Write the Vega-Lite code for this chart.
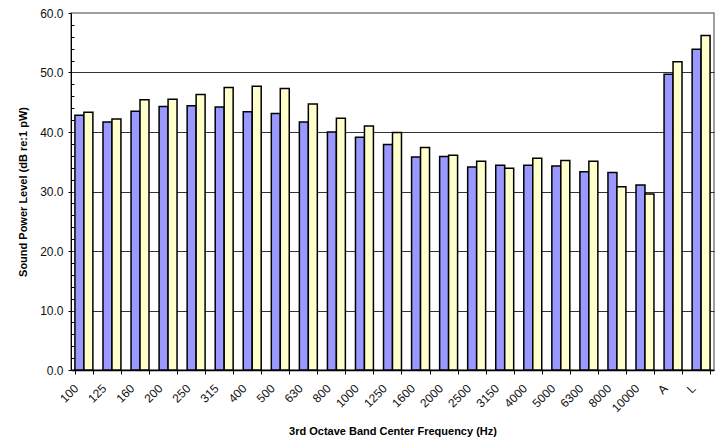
{
  "$schema": "https://vega.github.io/schema/vega-lite/v6.json",
  "autosize": {"type": "none"},
  "width": 643,
  "height": 357,
  "padding": {"left": 71, "top": 13, "right": 5, "bottom": 71},
  "background": "white",
  "config": {
    "font": "Liberation Sans",
    "view": {"stroke": "#808080", "strokeWidth": 1.5},
    "axis": {"labelFont": "Liberation Sans", "titleFont": "Liberation Sans", "labelColor": "#111", "titleColor": "#000"}
  },
  "data": {
    "values": [
      {"band": "100", "series": "Series 1", "db": 42.8}, {"band": "100", "series": "Series 2", "db": 43.3},
      {"band": "125", "series": "Series 1", "db": 41.7}, {"band": "125", "series": "Series 2", "db": 42.2},
      {"band": "160", "series": "Series 1", "db": 43.5}, {"band": "160", "series": "Series 2", "db": 45.4},
      {"band": "200", "series": "Series 1", "db": 44.3}, {"band": "200", "series": "Series 2", "db": 45.5},
      {"band": "250", "series": "Series 1", "db": 44.4}, {"band": "250", "series": "Series 2", "db": 46.3},
      {"band": "315", "series": "Series 1", "db": 44.2}, {"band": "315", "series": "Series 2", "db": 47.5},
      {"band": "400", "series": "Series 1", "db": 43.4}, {"band": "400", "series": "Series 2", "db": 47.7},
      {"band": "500", "series": "Series 1", "db": 43.1}, {"band": "500", "series": "Series 2", "db": 47.3},
      {"band": "630", "series": "Series 1", "db": 41.7}, {"band": "630", "series": "Series 2", "db": 44.7},
      {"band": "800", "series": "Series 1", "db": 40.0}, {"band": "800", "series": "Series 2", "db": 42.3},
      {"band": "1000", "series": "Series 1", "db": 39.1}, {"band": "1000", "series": "Series 2", "db": 41.0},
      {"band": "1250", "series": "Series 1", "db": 37.9}, {"band": "1250", "series": "Series 2", "db": 39.9},
      {"band": "1600", "series": "Series 1", "db": 35.8}, {"band": "1600", "series": "Series 2", "db": 37.4},
      {"band": "2000", "series": "Series 1", "db": 35.9}, {"band": "2000", "series": "Series 2", "db": 36.1},
      {"band": "2500", "series": "Series 1", "db": 34.1}, {"band": "2500", "series": "Series 2", "db": 35.1},
      {"band": "3150", "series": "Series 1", "db": 34.4}, {"band": "3150", "series": "Series 2", "db": 33.9},
      {"band": "4000", "series": "Series 1", "db": 34.4}, {"band": "4000", "series": "Series 2", "db": 35.6},
      {"band": "5000", "series": "Series 1", "db": 34.3}, {"band": "5000", "series": "Series 2", "db": 35.2},
      {"band": "6300", "series": "Series 1", "db": 33.3}, {"band": "6300", "series": "Series 2", "db": 35.1},
      {"band": "8000", "series": "Series 1", "db": 33.2}, {"band": "8000", "series": "Series 2", "db": 30.8},
      {"band": "10000", "series": "Series 1", "db": 31.1}, {"band": "10000", "series": "Series 2", "db": 29.6},
      {"band": "A", "series": "Series 1", "db": 49.7}, {"band": "A", "series": "Series 2", "db": 51.8},
      {"band": "L", "series": "Series 1", "db": 53.9}, {"band": "L", "series": "Series 2", "db": 56.2}
    ]
  },
  "mark": {"type": "bar", "stroke": "#000", "strokeWidth": 1.5},
  "encoding": {
    "x": {
      "field": "band",
      "type": "nominal",
      "sort": null,
      "scale": {"paddingInner": 0.36, "paddingOuter": 0.14},
      "axis": {
        "title": "3rd Octave Band Center Frequency (Hz)",
        "titleFontSize": 11,
        "titleFontWeight": "bold",
        "titlePadding": 12,
        "labelAngle": -45,
        "labelAlign": "right",
        "labelBaseline": "middle",
        "labelFontSize": 12,
        "labelPadding": 12,
        "labelOffset": -8,
        "tickBand": "extent",
        "tickSize": 4,
        "tickColor": "#000",
        "domainColor": "#000",
        "domainWidth": 1.5,
        "grid": false
      }
    },
    "xOffset": {
      "field": "series",
      "type": "nominal",
      "scale": {"paddingInner": 0, "paddingOuter": 0}
    },
    "y": {
      "field": "db",
      "type": "quantitative",
      "scale": {"domain": [0, 60], "nice": false},
      "axis": {
        "title": "Sound Power Level (dB re:1 pW)",
        "titleFontSize": 11,
        "titleFontWeight": "bold",
        "titlePadding": 11,
        "values": [0, 2, 4, 6, 8, 10, 12, 14, 16, 18, 20, 22, 24, 26, 28, 30, 32, 34, 36, 38, 40, 42, 44, 46, 48, 50, 52, 54, 56, 58, 60],
        "labelExpr": "datum.value % 10 === 0 ? format(datum.value, '.1f') : ''",
        "labelFontSize": 12,
        "labelPadding": 5,
        "tickSize": {"condition": {"test": "datum.value % 10 === 0", "value": 3}, "value": -3},
        "tickColor": "#000",
        "domainColor": "#000",
        "grid": true,
        "gridColor": "#333",
        "gridWidth": 1,
        "gridOpacity": {"condition": {"test": "datum.value % 10 === 0 && datum.value > 0 && datum.value < 60", "value": 1}, "value": 0}
      }
    },
    "color": {
      "field": "series",
      "type": "nominal",
      "scale": {"domain": ["Series 1", "Series 2"], "range": ["#9999FF", "#FFFFCC"]},
      "legend": null
    }
  }
}
